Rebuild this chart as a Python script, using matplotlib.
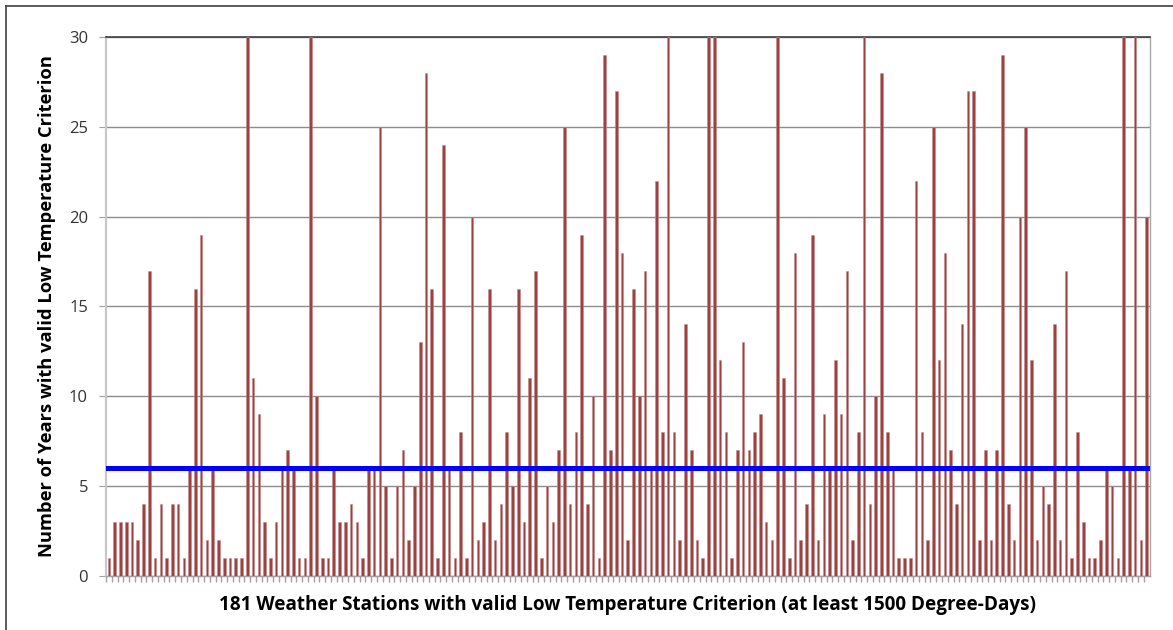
import numpy as np
import matplotlib
matplotlib.use("Agg")
import matplotlib.pyplot as plt
from matplotlib.lines import Line2D

# years with a valid low temperature criterion, one value per station
years = [1, 3, 3, 3, 3, 2, 4, 17, 1, 4, 1, 4, 4, 1, 6, 16, 19, 2, 6, 2, 1, 1,
         1, 1, 30, 11, 9, 3, 1, 3, 6, 7, 6, 1, 1, 30, 10, 1, 1, 6, 3, 3, 4, 3, 1,
         6, 6, 25, 5, 1, 5, 7, 2, 5, 13, 28, 16, 1, 24, 6, 1, 8, 1, 20, 2, 3, 16, 2,
         4, 8, 5, 16, 3, 11, 17, 1, 5, 3, 7, 25, 4, 8, 19, 4, 10, 1, 29, 7, 27, 18,
         2, 16, 10, 17, 6, 22, 8, 30, 8, 2, 14, 7, 2, 1, 30, 30, 12, 8, 1, 7, 13, 7,
         8, 9, 3, 2, 30, 11, 1, 18, 2, 4, 19, 2, 9, 6, 12, 9, 17, 2, 8, 30, 4, 10, 28,
         8, 6, 1, 1, 1, 22, 8, 2, 25, 12, 18, 7, 4, 14, 27, 27, 2, 7, 2, 7, 29, 4, 2,
         20, 25, 12, 2, 5, 4, 14, 2, 17, 1, 8, 3, 1, 1, 2, 6, 5, 1, 30, 6, 30, 2, 20]
threshold = 6
yticks = [0, 5, 10, 15, 20, 25, 30]

plt.rcParams['font.family'] = ['Open Sans', 'DejaVu Sans']

fig = plt.figure(figsize=(11.73, 6.3), dpi=100)
ax = fig.add_axes([0.0904, 0.0857, 0.8896, 0.8556])

x = np.arange(len(years))
ax.bar(x, years, width=0.45, color='#9c4040', edgecolor='#c88a8a', linewidth=0.4, zorder=3)
ax.axhline(threshold, color='#0000ff', linewidth=3.6, zorder=4)

ax.set_xlim(-0.5, len(years) - 0.5)
ax.set_ylim(0, 30)
ax.set_yticks(yticks)
ax.yaxis.grid(True, color='#8c8c8c', linewidth=1.0, zorder=0)
ax.set_xticks(x - 0.5, minor=True)
ax.set_xticks([])
ax.tick_params(axis='x', which='minor', length=4, color='#a0a0a0', width=1)
ax.tick_params(axis='y', length=5, color='#a0a0a0', labelsize=12, labelcolor='#333333', pad=8)

for s in ['left', 'bottom']:
    ax.spines[s].set_color('#c8c8c8')
    ax.spines[s].set_linewidth(1.6)
ax.spines['bottom'].set_color('#a0a0a0')
ax.spines['bottom'].set_linewidth(1.0)
ax.spines['right'].set_color('#a8a8a8')
ax.spines['right'].set_linewidth(1.0)
ax.spines['top'].set_color('#404040')
ax.spines['top'].set_linewidth(1.2)

ax.set_ylabel('Number of Years with valid Low Temperature Criterion', fontsize=13.2,
              fontweight='bold', labelpad=9)
ax.set_xlabel('181 Weather Stations with valid Low Temperature Criterion (at least 1500 Degree-Days)',
              fontsize=13.6, fontweight='bold', labelpad=6)

# outer frame of the original picture
fig.add_artist(Line2D([6 / 1173, 1.0], [1 - 6 / 630, 1 - 6 / 630], color='#404040', linewidth=1.2))
fig.add_artist(Line2D([6 / 1173, 6 / 1173], [0.0, 1 - 6 / 630], color='#404040', linewidth=1.2))

fig.savefig('out.png', dpi=100)
